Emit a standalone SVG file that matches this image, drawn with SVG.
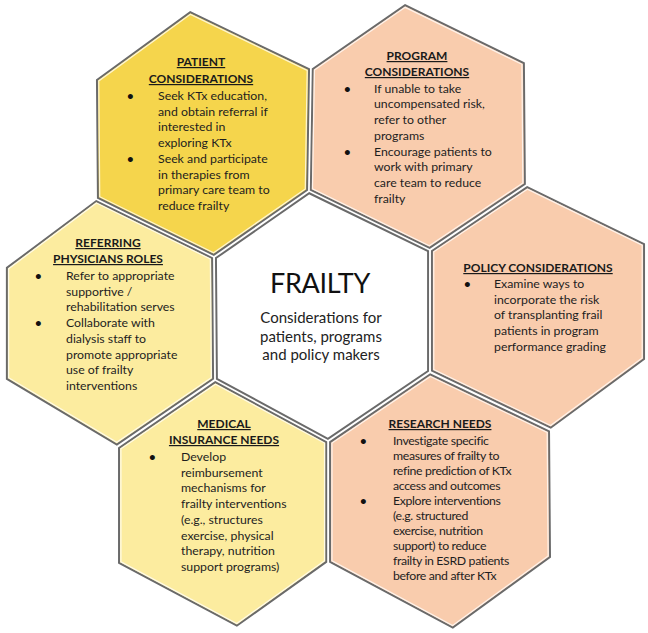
<svg xmlns="http://www.w3.org/2000/svg" width="648" height="633" viewBox="0 0 648 633">
<style>
.hex{stroke:#6a6a6a;stroke-width:2;stroke-linejoin:miter}
.hi{fill:none;stroke:#ffffff;stroke-opacity:0.75;stroke-width:1.3}
.gold{fill:#F5D54C}
.pale{fill:#FCEC9F}
.peach{fill:#F9CCAD}
.white{fill:#FFFFFF}
.h{font-family:Lato,"Open Sans","DejaVu Sans",sans-serif;font-weight:bold;font-size:12px;fill:#1a1a1a;text-anchor:middle;text-decoration:underline}
.t{font-family:Lato,"Open Sans","DejaVu Sans",sans-serif;font-size:12.3px;fill:#1e1e1e}
.b{font-family:Lato,"DejaVu Sans",sans-serif;font-size:11.5px;font-weight:bold;fill:#111}
.big{font-family:Lato,"Open Sans",sans-serif;font-size:27px;letter-spacing:-0.3px;fill:#111;text-anchor:middle}
.sub{font-family:Lato,"Open Sans",sans-serif;font-size:15px;fill:#222;text-anchor:middle}
</style>
<rect width="648" height="633" fill="#ffffff"/>

<g id="patient">
<polygon class="hex gold" transform="matrix(0.982,0,0,0.982,3.65,2.41)" points="190,10 311,68 309,191 214,257 96,199 95,79"/>
<polygon class="hi" transform="matrix(0.965,0,0,0.965,7.09,4.69)" points="190,10 311,68 309,191 214,257 96,199 95,79"/>
<text class="h" x="201" y="66">PATIENT</text>
<text class="h" x="201" y="83">CONSIDERATIONS</text>
<text class="b" x="127" y="100">•</text>
<text class="t"><tspan x="158" y="100">Seek KTx education,</tspan><tspan x="158" y="115.7">and obtain referral if</tspan><tspan x="158" y="131.4">interested in</tspan><tspan x="158" y="147.1">exploring KTx</tspan></text>
<text class="b" x="127" y="162.8">•</text>
<text class="t"><tspan x="158" y="162.8">Seek and participate</tspan><tspan x="158" y="178.5">in therapies from</tspan><tspan x="158" y="194.2">primary care team to</tspan><tspan x="158" y="209.9">reduce frailty</tspan></text>
</g>

<g id="program">
<polygon class="hex peach" transform="matrix(0.982,0,0,0.982,7.37,2.29)" points="405,3 526,62 527,185 430,250 309,191 311,68"/>
<polygon class="hi" transform="matrix(0.965,0,0,0.965,14.33,4.45)" points="405,3 526,62 527,185 430,250 309,191 311,68"/>
<text class="h" x="417" y="60">PROGRAM</text>
<text class="h" x="417" y="76">CONSIDERATIONS</text>
<text class="b" x="344" y="92.7">•</text>
<text class="t"><tspan x="374" y="92.7">If unable to take</tspan><tspan x="374" y="108.4">uncompensated risk,</tspan><tspan x="374" y="124.1">refer to other</tspan><tspan x="374" y="139.8">programs</tspan></text>
<text class="b" x="344" y="155.5">•</text>
<text class="t"><tspan x="374" y="155.5">Encourage patients to</tspan><tspan x="374" y="171.2">work with primary</tspan><tspan x="374" y="186.9">care team to reduce</tspan><tspan x="374" y="202.6">frailty</tspan></text>
</g>

<g id="policy">
<polygon class="hex peach" transform="matrix(0.982,0,0,0.982,9.68,5.45)" points="527,185 646,243 646,360 551,430 430,372 430,250"/>
<polygon class="hi" transform="matrix(0.965,0,0,0.965,18.82,10.6)" points="527,185 646,243 646,360 551,430 430,372 430,250"/>
<text class="h" x="538" y="272">POLICY CONSIDERATIONS</text>
<text class="b" x="464" y="288">•</text>
<text class="t"><tspan x="494" y="288">Examine ways to</tspan><tspan x="494" y="303.7">incorporate the risk</tspan><tspan x="494" y="319.4">of transplanting frail</tspan><tspan x="494" y="335.1">patients in program</tspan><tspan x="494" y="350.8">performance grading</tspan></text>
</g>

<g id="research">
<polygon class="hex peach" transform="matrix(0.982,0,0,0.982,7.96,9)" points="430,372 551,430 552,558 453,630 328,563 328,441"/>
<polygon class="hi" transform="matrix(0.965,0,0,0.965,15.47,17.5)" points="430,372 551,430 552,558 453,630 328,563 328,441"/>
<text class="h" x="440" y="428">RESEARCH NEEDS</text>
<text class="b" x="360" y="445">•</text>
<text class="t" letter-spacing="-0.35"><tspan x="393" y="445">Investigate specific</tspan><tspan x="393" y="460">measures of frailty to</tspan><tspan x="393" y="475">refine prediction of KTx</tspan><tspan x="393" y="490">access and outcomes</tspan></text>
<text class="b" x="360" y="504.5">•</text>
<text class="t" letter-spacing="-0.35"><tspan x="393" y="504.5">Explore interventions</tspan><tspan x="393" y="519.5">(e.g. structured</tspan><tspan x="393" y="534.5">exercise, nutrition</tspan><tspan x="393" y="549.5">support) to reduce</tspan><tspan x="393" y="564.5">frailty in ESRD patients</tspan><tspan x="393" y="579.5">before and after KTx</tspan></text>
</g>

<g id="medical">
<polygon class="hex pale" transform="matrix(0.982,0,0,0.982,4.12,9.02)" points="215,380 328,441 328,563 237,628 117,564 117,447"/>
<polygon class="hi" transform="matrix(0.965,0,0,0.965,8.02,17.5)" points="215,380 328,441 328,563 237,628 117,564 117,447"/>
<text class="h" x="224" y="428">MEDICAL</text>
<text class="h" x="224" y="444">INSURANCE NEEDS</text>
<text class="b" x="149" y="461">•</text>
<text class="t"><tspan x="181" y="461">Develop</tspan><tspan x="181" y="476.7">reimbursement</tspan><tspan x="181" y="492.4">mechanisms for</tspan><tspan x="181" y="508.1">frailty interventions</tspan><tspan x="181" y="523.8">(e.g., structures</tspan><tspan x="181" y="539.5">exercise,  physical</tspan><tspan x="181" y="555.2">therapy, nutrition</tspan><tspan x="181" y="570.9">support programs)</tspan></text>
</g>

<g id="referring">
<polygon class="hex pale" transform="matrix(0.982,0,0,0.982,1.96,5.66)" points="96,199 214,257 215,380 117,447 5,380 5,267"/>
<polygon class="hi" transform="matrix(0.965,0,0,0.965,3.84,11)" points="96,199 214,257 215,380 117,447 5,380 5,267"/>
<text class="h" x="108" y="247">REFERRING</text>
<text class="h" x="108" y="263">PHYSICIANS ROLES</text>
<text class="b" x="35" y="280">•</text>
<text class="t"><tspan x="66" y="280">Refer to appropriate</tspan><tspan x="66" y="295.7">supportive /</tspan><tspan x="66" y="311.4">rehabilitation serves</tspan></text>
<text class="b" x="35" y="327.1">•</text>
<text class="t"><tspan x="66" y="327.1">Collaborate with</tspan><tspan x="66" y="342.8">dialysis staff to</tspan><tspan x="66" y="358.5">promote appropriate</tspan><tspan x="66" y="374.2">use of frailty</tspan><tspan x="66" y="389.9">interventions</tspan></text>
</g>

<g id="center">
<polygon class="hex white" transform="matrix(0.982,0,0,0.982,5.8,5.69)" points="309,191 430,250 430,372 328,441 215,380 214,257"/>
<text class="big" x="320" y="293">FRAILTY</text>
<text class="sub"><tspan x="321" y="323">Considerations for</tspan><tspan x="321" y="341.5">patients, programs</tspan><tspan x="321" y="360">and policy makers</tspan></text>
</g>

<g id="connectors"></g>
</svg>
